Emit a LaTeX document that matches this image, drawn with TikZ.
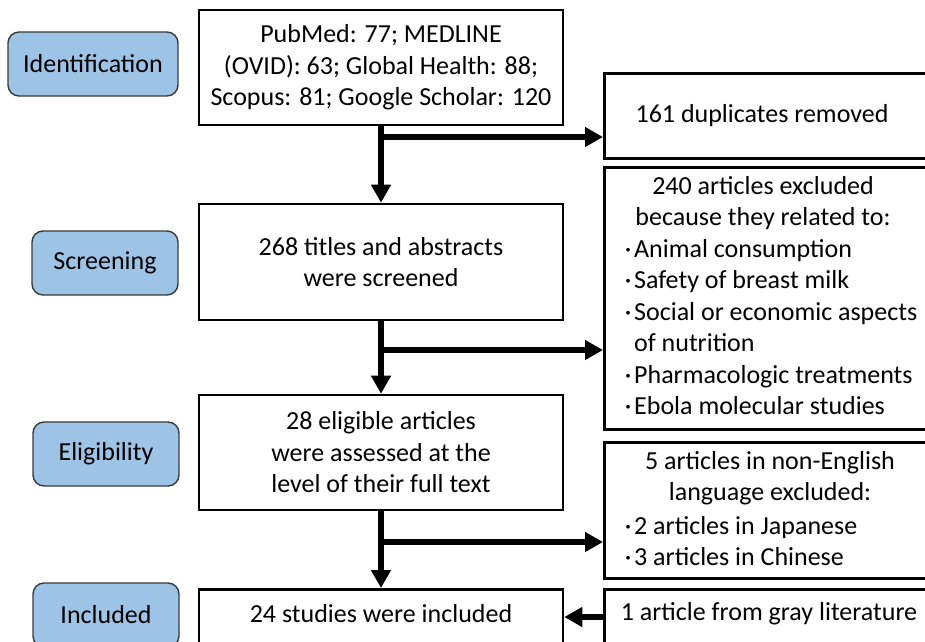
\documentclass[tikz,border=0pt]{standalone}
\usepackage{fontspec}
\setmainfont{Carlito}
\usetikzlibrary{arrows.meta}
\definecolor{lblue}{HTML}{9DC3E6}
\definecolor{lborder}{HTML}{3A3A3A}
\newcommand\fs{\fontsize{26}{31.5}\selectfont}
\newcommand\bul{\makebox[12pt][c]{·}}
\begin{document}
\begin{tikzpicture}[x=1pt,y=-1pt,
  stage/.style={draw=lborder, fill=lblue, rounded corners=11pt, line width=1.4pt,
    minimum height=64pt, inner sep=0pt, font=\fs},
  box/.style={draw=black, line width=2.6pt, inner sep=0pt, align=center, font=\fs},
  txt/.style={inner sep=0pt, font=\fs, align=center},
  ltxt/.style={inner sep=0pt, font=\fs, align=left},
  arr/.style={line width=6pt, -{Triangle[length=18pt,width=19pt]}}]
\useasboundingbox (0,0) rectangle (925,641);
\clip (0,0) rectangle (925,641);
\fill[white] (0,0) rectangle (925,641);

% stage labels
\node[stage, minimum width=170pt] (s1) at (93,64) {Identification};
\node[stage, minimum width=146pt] (s2) at (105,263) {Screening};
\node[stage, minimum width=146pt] (s3) at (106,454) {Eligibility};
\node[stage, minimum width=146pt] (s4) at (106,615) {Included};

% main boxes
\node[box, minimum width=364pt, minimum height=115pt] (b1) at (381,67.5)
  {PubMed: 77; MEDLINE\\(OVID): 63; Global Health: 88;\\Scopus: 81; Google Scholar: 120};
\node[box, minimum width=364pt, minimum height=116pt] (b2) at (381,262)
  {268 titles and abstracts\\were screened};
\node[box, minimum width=364pt, minimum height=115pt] (b3) at (381,452.5)
  {28 eligible articles\\were assessed at the\\level of their full text};
\node[box, minimum width=364pt, minimum height=70pt, anchor=north] (b4) at (381,588) {};
\node[txt] (t4) at (381,614) {24 studies were included};

% right boxes
\node[box, minimum width=350pt, minimum height=85pt, anchor=north west] (r1) at (603,72) {};
\node[txt] (t1) at (762,116) {161 duplicates removed};
\node[box, minimum width=350pt, minimum height=262pt, anchor=north west] (r2) at (603,166) {};
\node[txt] (t2a) at (763,203) {240 articles excluded\\because they related to:};
\node[ltxt, anchor=west] (t2b) at (622,327)
  {\bul Animal consumption\\\bul Safety of breast milk\\\bul Social or economic aspects\\\hspace{12pt}of nutrition\\\bul Pharmacologic treatments\\\bul Ebola molecular studies};
\node[box, minimum width=350pt, minimum height=136pt, anchor=north west] (r3) at (603,441) {};
\node[txt] (t3a) at (770,478) {5 articles in non-English\\language excluded:};
\node[ltxt, anchor=west] (t3b) at (622,541)
  {\bul 2 articles in Japanese\\\bul 3 articles in Chinese};
\node[box, minimum width=350pt, minimum height=70pt, anchor=north west] (r4) at (603,588) {};
\node[txt] (t5) at (769,614) {1 article from gray literature};

% junctions
\coordinate (j1) at (382,137);
\coordinate (j2) at (382,350);
\coordinate (j3) at (382,542);
\coordinate (j4) at (382,617);

% connectors
\draw[arr] (b1.south) -- (b2.north);
\draw[arr] (b2.south) -- (b3.north);
\draw[arr] (b3.south) -- (b4.north);
\draw[arr] (j1) -- (j1 -| r1.west);
\draw[arr] (j2) -- (j2 -| r2.west);
\draw[arr] (j3) -- (j3 -| r3.west);
\draw[arr] (j4 -| r4.west) -- (j4 -| b4.east);
\end{tikzpicture}
\end{document}
